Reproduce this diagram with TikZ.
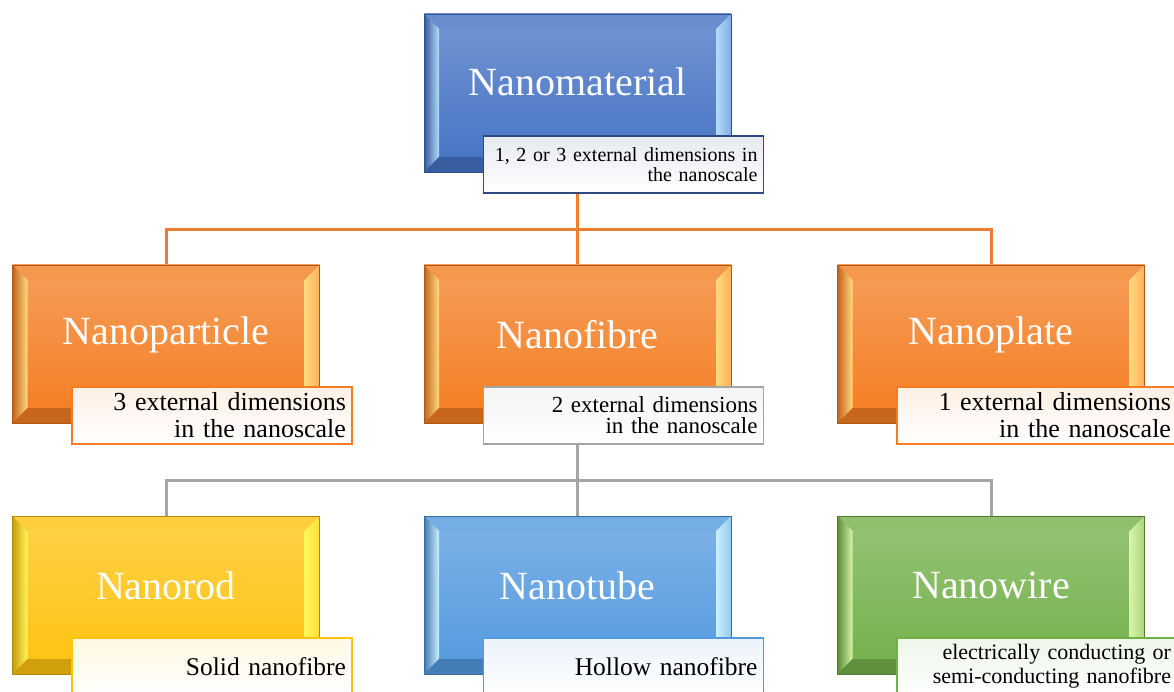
\documentclass[tikz,border=0pt]{standalone}
\usepackage{fontspec}
\setmainfont{Liberation Serif}
\usetikzlibrary{positioning,calc,backgrounds}

\definecolor{matblue}{HTML}{4472C4}
\definecolor{matlight}{HTML}{B4DCFA}
\definecolor{navyedge}{HTML}{2F4A80}
\definecolor{catorange}{HTML}{F47D22}
\definecolor{orglight}{HTML}{FFDA80}
\definecolor{rodgold}{HTML}{FFC20E}
\definecolor{rodlight}{HTML}{FFF65A}
\definecolor{tubeblue}{HTML}{5399DF}
\definecolor{tubelight}{HTML}{CCF0FC}
\definecolor{wiregreen}{HTML}{72B04A}
\definecolor{wirelight}{HTML}{D8F4A8}
\definecolor{linkorange}{HTML}{ED7D31}
\definecolor{linkgray}{HTML}{A5A5A5}

\tikzset{
  bevelbox/.style 2 args={rectangle, minimum width=307pt, minimum height=158pt,
    inner sep=0pt, draw=#1!70!black, line width=0.6pt,
    top color=#1!75!white, bottom color=#1,
    path picture={
      \fill[#1!80!white] (path picture bounding box.north west)
        -- (path picture bounding box.north east)
        -- ([shift={(-15pt,-15pt)}]path picture bounding box.north east)
        -- ([shift={(15pt,-15pt)}]path picture bounding box.north west) -- cycle;
      \shade[left color=#1!80!black, right color=#2]
        (path picture bounding box.north west)
        -- ([shift={(15pt,-15pt)}]path picture bounding box.north west)
        -- ([shift={(15pt,15pt)}]path picture bounding box.south west)
        -- (path picture bounding box.south west) -- cycle;
      \shade[left color=#2, right color=#1!45!#2]
        (path picture bounding box.north east)
        -- ([shift={(-15pt,-15pt)}]path picture bounding box.north east)
        -- ([shift={(-15pt,15pt)}]path picture bounding box.south east)
        -- (path picture bounding box.south east) -- cycle;
      \fill[#1!82!black] (path picture bounding box.south west)
        -- ([shift={(15pt,15pt)}]path picture bounding box.south west)
        -- ([shift={(-15pt,15pt)}]path picture bounding box.south east)
        -- (path picture bounding box.south east) -- cycle;
    }},
  headtext/.style={text=white, font=\fontsize{40}{44}\selectfont, inner sep=0pt},
  notebox/.style={rectangle, draw=#1, line width=1.8pt, top color=#1!12!white,
    bottom color=white, text=black, text width=268pt, align=right,
    inner xsep=6pt, inner ysep=0pt, minimum height=57pt},
  linkline/.style={draw=#1, line width=3pt}
}

\begin{document}
\begin{tikzpicture}[x=1pt, y=-1pt]
  \useasboundingbox (0,0) rectangle (1174,692);

  % level 0
  \node[bevelbox={matblue}{matlight}] (mat) at (577.5,93) {};
  \node[headtext] (matlbl) at ([yshift=-68pt]mat.north) {Nanomaterial};
  \node[notebox=navyedge, font=\fontsize{20}{20}\selectfont] (matnote)
    at ([shift={(46pt,8pt)}]mat.south) {1, 2 or 3 external dimensions in\\the nanoscale};

  % level 1
  \node[bevelbox={catorange}{orglight}] (part) at (166,344) {};
  \node[headtext] (partlbl) at ([yshift=-70pt]part.north) {Nanoparticle};
  \node[notebox=catorange, font=\fontsize{26}{27}\selectfont] (partnote)
    at ([shift={(46pt,8pt)}]part.south) {3 external dimensions\\in the nanoscale};

  \node[bevelbox={catorange}{orglight}] (fib) at (577.5,344) {};
  \node[headtext] (fiblbl) at ([yshift=-70pt]fib.north) {Nanofibre};
  \node[notebox=linkgray, font=\fontsize{23}{21}\selectfont] (fibnote)
    at ([shift={(46pt,8pt)}]fib.south) {2 external dimensions\\in the nanoscale};

  \node[bevelbox={catorange}{orglight}] (plate) at (991,344) {};
  \node[headtext] (platelbl) at ([yshift=-70pt]plate.north) {Nanoplate};
  \node[notebox=catorange, font=\fontsize{26}{27}\selectfont] (platenote)
    at ([shift={(46pt,8pt)}]plate.south) {1 external dimensions\\in the nanoscale};

  % level 2
  \node[bevelbox={rodgold}{rodlight}] (rod) at (166,595) {};
  \node[headtext] (rodlbl) at ([yshift=-70pt]rod.north) {Nanorod};
  \node[notebox=rodgold, font=\fontsize{25.5}{27}\selectfont] (rodnote)
    at ([shift={(46pt,8pt)}]rod.south) {Solid nanofibre};

  \node[bevelbox={tubeblue}{tubelight}] (tube) at (577.5,595) {};
  \node[headtext] (tubelbl) at ([yshift=-70pt]tube.north) {Nanotube};
  \node[notebox=tubeblue, font=\fontsize{25.5}{27}\selectfont] (tubenote)
    at ([shift={(46pt,8pt)}]tube.south) {Hollow nanofibre};

  \node[bevelbox={wiregreen}{wirelight}] (wire) at (991,595) {};
  \node[headtext] (wirelbl) at ([yshift=-70pt]wire.north) {Nanowire};
  \node[notebox=wiregreen, font=\fontsize{22}{24}\selectfont] (wirenote)
    at ([shift={(46pt,8pt)}]wire.south) {electrically conducting or\\semi-conducting nanofibre};

  % connectors behind the boxes
  \begin{scope}[on background layer]
    \coordinate (topbus) at ($(matnote.south)!0.5!(fib.north)$);
    \coordinate (lowbus) at ($(fibnote.south)!0.5!(tube.north)$);
    \draw[linkline=linkorange] (mat.south) -- (fib.north);
    \draw[linkline=linkorange] (part.north) |- (topbus) -| (plate.north);
    \draw[linkline=linkgray] (fib.south) -- (tube.north);
    \draw[linkline=linkgray] (rod.north) |- (lowbus) -| (wire.north);
  \end{scope}
\end{tikzpicture}
\end{document}
